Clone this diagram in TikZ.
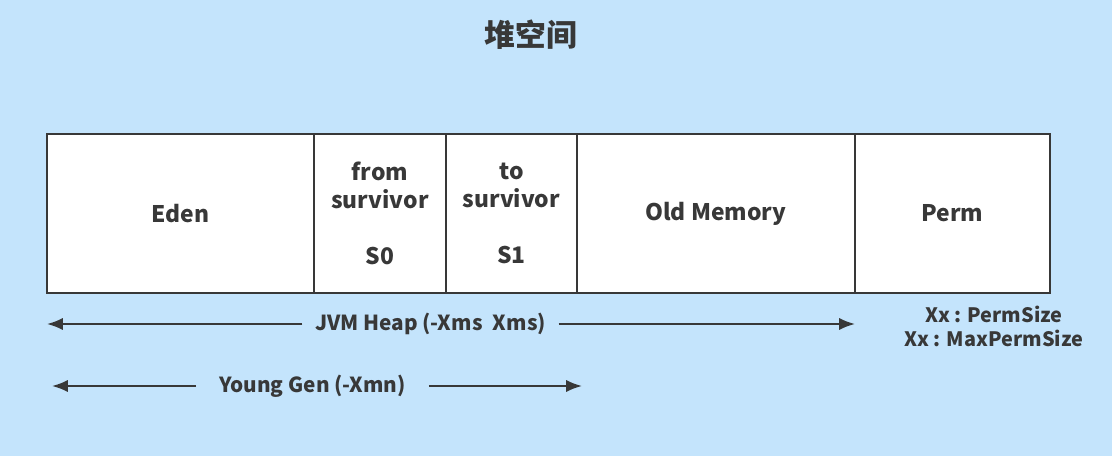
\documentclass[tikz,border=0pt]{standalone}
\usepackage{fontspec}
\setmainfont{Noto Sans CJK SC}
\usetikzlibrary{
    arrows.meta,
    positioning
}
\definecolor{bgblue}{HTML}{C4E4FC}
\definecolor{ink}{HTML}{383838}

\begin{document}
\begin{tikzpicture}[x=0.02cm, y=-0.02cm,
    font=\bfseries\fontsize{13}{15.5}\selectfont, text=ink,
    cell/.style={draw=ink, line width=1.5pt, fill=white, outer sep=0pt,
        minimum height=3.18cm, align=center, inner sep=0pt},
    span/.style={-{Latex[length=9pt,width=7pt]}, draw=ink, line width=1.2pt},
    spanlabel/.style={font=\bfseries\fontsize{11.8}{13}\selectfont},
    node distance=0pt]

% Background and margins
\useasboundingbox[fill=bgblue] (0,0) rectangle (1112,456);

% Title
\node[font=\bfseries\fontsize{17.5}{20}\selectfont] (title) at (531,35) {堆空间};

% Heap regions
\node[cell, minimum width=5.34cm] (eden) at (180.5,213.5) {Eden};
\node[cell, minimum width=2.64cm, right=of eden] (from) {from\\survivor\\[0.58cm]S0};
\node[cell, minimum width=2.62cm, right=of from] (to) {to\\survivor\\[0.58cm]S1};
\node[cell, minimum width=5.56cm, right=of to] (old) {Old Memory};
\node[cell, minimum width=3.90cm, right=of old] (perm) {Perm};

% Perm size options
\node[align=center, font=\bfseries\fontsize{11.3}{13.6}\selectfont] (permsize) at (994,326)
    {Xx : PermSize\\Xx : MaxPermSize};

% Heap span
\coordinate (heapL) at (47,324);
\coordinate (heapR) at (855,324);
\node[spanlabel, inner xsep=7pt] (heap) at (430.5,324) {JVM Heap (-Xms\enspace Xms)};
\draw[span] (heap.west) -- (heapL);
\draw[span] (heap.east) -- (heapR);

% Young gen span
\coordinate (youngL) at (52,386);
\coordinate (youngR) at (582,386);
\node[spanlabel, inner xsep=13pt] (young) at (312.5,386) {Young Gen (-Xmn)};
\draw[span] (young.west) -- (youngL);
\draw[span] (young.east) -- (youngR);

\end{tikzpicture}
\end{document}
